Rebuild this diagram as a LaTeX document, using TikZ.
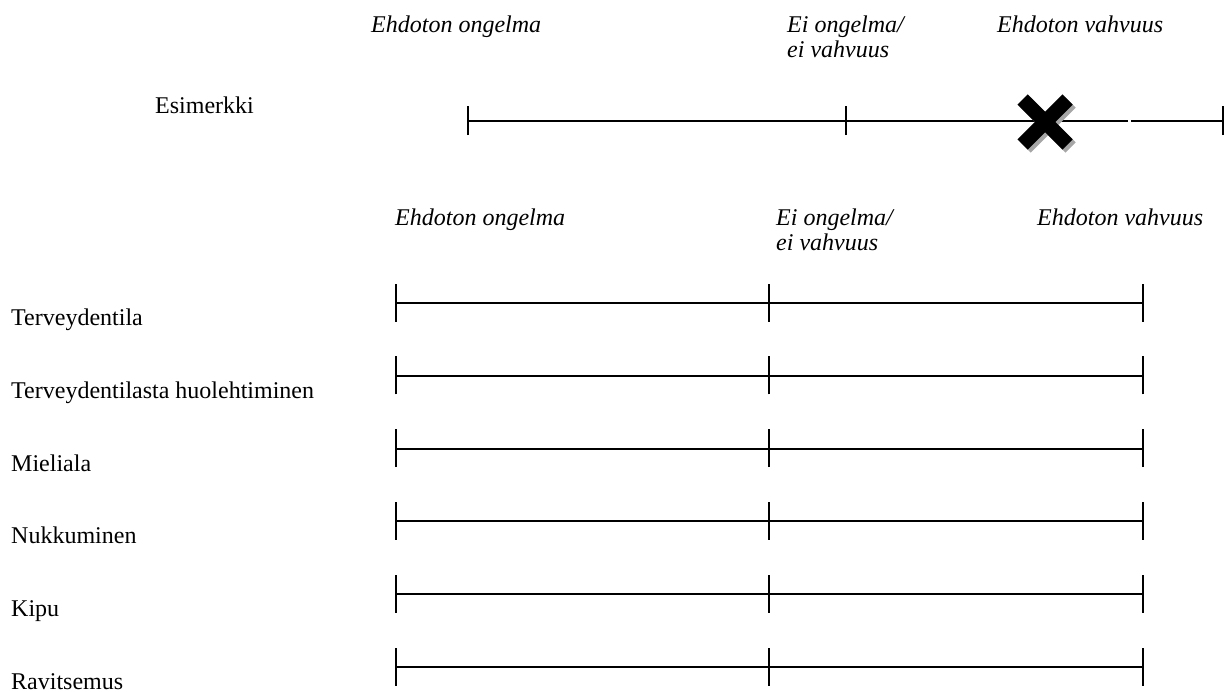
\documentclass[tikz,border=0pt]{standalone}
\usepackage{fontspec}
\setmainfont{Liberation Serif}
\begin{document}
\begin{tikzpicture}[x=1pt,y=-1pt,
  lbl/.style={anchor=base west,inner sep=0pt,font=\fontsize{24}{24}\selectfont},
  hdr/.style={anchor=base west,inner sep=0pt,font=\fontsize{24}{24}\selectfont\itshape},
  thin scale/.style={line width=1.2pt},
  thin tick/.style={line width=1.6pt},
  scale line/.style={line width=1.9pt},
  tick/.style={line width=2pt},
  cross/.style={line width=14.5pt},
  cross shadow/.style={line width=14.5pt,draw=black!35}]
\useasboundingbox (0,0) rectangle (1228,691);

% --- example scale ---
\node[hdr] (eh1) at (371,32) {Ehdoton ongelma};
\node[hdr] (ei1a) at (787,32) {Ei ongelma/};
\node[hdr] (ei1b) at (787,57) {ei vahvuus};
\node[hdr] (ev1) at (997,32) {Ehdoton vahvuus};
\node[lbl] (esim) at (155,113) {Esimerkki};

\coordinate (ex0) at (468,121);
\coordinate (ex1) at (846,121);
\coordinate (exg0) at (1128,121);
\coordinate (exg1) at (1131,121);
\coordinate (ex2) at (1223,121);
\draw[thin scale] (ex0) -- (exg0);
\draw[thin scale] (exg1) -- (ex2);
\foreach \c in {ex0,ex1,ex2}
  \draw[thin tick] ([yshift=-14pt]\c) -- ([yshift=15pt]\c);

% the marked position
\begin{scope}[shift={(1045,122)}]
  \begin{scope}[shift={(3,3)}]
    \draw[cross shadow] (-22.5,-22.5) -- (22.5,22.5);
    \draw[cross shadow] (-22.5,22.5) -- (22.5,-22.5);
  \end{scope}
  \draw[cross] (-22.5,-22.5) -- (22.5,22.5);
  \draw[cross] (-22.5,22.5) -- (22.5,-22.5);
\end{scope}

% --- rating scales ---
\node[hdr] (eh2) at (395,225) {Ehdoton ongelma};
\node[hdr] (ei2a) at (776,225) {Ei ongelma/};
\node[hdr] (ei2b) at (776,250) {ei vahvuus};
\node[hdr] (ev2) at (1037,225) {Ehdoton vahvuus};

\foreach \name [count=\i from 0] in {Terveydentila,Terveydentilasta huolehtiminen,Mieliala,Nukkuminen,Kipu,Ravitsemus} {
  \pgfmathsetmacro\yy{303+72.8*\i}
  \node[lbl] (row\i) at (11,\yy+22.5) {\name};
  \coordinate (l\i) at (396,\yy);
  \coordinate (m\i) at (769,\yy);
  \coordinate (r\i) at (1143,\yy);
  \draw[scale line] (l\i) -- (r\i);
  \foreach \c in {l\i,m\i,r\i}
    \draw[tick] ([yshift=-18.5pt]\c) -- ([yshift=19.5pt]\c);
}
\end{tikzpicture}
\end{document}
